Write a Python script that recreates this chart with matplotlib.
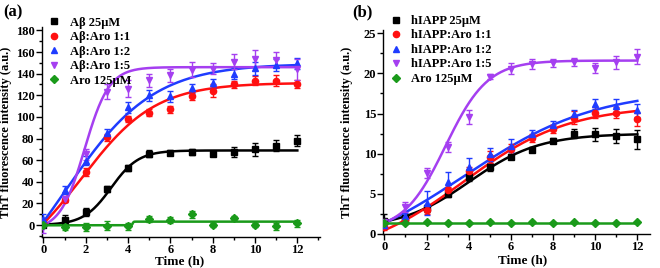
import numpy as np
import matplotlib
matplotlib.use("Agg")
import matplotlib.pyplot as plt
from matplotlib.lines import Line2D
from matplotlib.ticker import MultipleLocator

plt.rcParams['font.family'] = ['Liberation Serif', 'DejaVu Serif']
plt.rcParams['font.weight'] = 'bold'

hours = np.arange(13)

# ---------- panel (a) data ----------
a_labels = ["A\u03b2 25\u03bcM", "A\u03b2:Aro 1:1", "A\u03b2:Aro 1:2", "A\u03b2:Aro 1:5", "Aro 125\u03bcM"]
a_black = [0, 5, 12, 33.5, 53, 66, 67, 67.5, 66, 67.5, 70, 73.5, 78]
a_black_err = [2, 4, 4, 3, 3, 3, 2, 3, 2, 5, 6, 5, 5]
a_red = [3, 23.5, 49, 81, 98, 104, 107, 119.5, 124, 130, 133.5, 133.5, 130.5]
a_red_err = [3, 2, 4, 3, 3, 3, 3, 4, 6, 3, 4, 5, 4]
a_blue = [6, 32.6, 59.7, 85, 109, 120, 119, 126.5, 131, 140, 145, 148, 149.5]
a_blue_err = [4, 4, 4, 4, 5, 5, 5, 4, 4, 5, 6, 6, 5]
a_purple = [-2, 24, 65.5, 123.5, 126, 134, 138.5, 143.5, 144.5, 151, 154, 153, 144]
a_purple_err = [5, 3, 5, 7, 8, 6, 6, 7, 5, 7, 8, 7, 10]
a_green = [0, -1.8, -1.8, -0.6, -1.2, 5.5, 4.9, 10, 0, 6.7, 0, -1.2, 1.5]
a_green_err = [2, 3, 4, 4, 3, 3, 3, 3, 2, 2, 2, 3, 3]
# Boltzmann fit parameters (A1, A2, x0, dx)
a_fits = [(0, 69, 3.2, 0.65), (-45, 131.5, 1.8, 1.75), (-87.8, 149.2, 1.0, 2.1),
          (-5, 146, 1.95, 0.58), (-0.2, 3.2, 4.22, 0.02)]

# ---------- panel (b) data ----------
b_labels = ["hIAPP 25\u03bcM", "hIAPP:Aro 1:1", "hIAPP:Aro 1:2", "hIAPP:Aro 1:5", "Aro 125\u03bcM"]
b_black = [1.6, 2.0, 3.2, 5.0, 7.1, 8.3, 9.6, 10.5, 11.6, 12.5, 12.4, 12.2, 11.8]
b_black_err = [0.9, 0.3, 0.4, 0.4, 0.5, 0.5, 0.3, 0.3, 0.3, 0.6, 0.8, 0.9, 1.2]
b_red = [1.0, 1.8, 3.0, 5.5, 7.8, 9.6, 10.6, 11.9, 13.1, 14.5, 15.1, 15.1, 14.3]
b_red_err = [0.5, 0.3, 0.5, 0.4, 0.6, 0.7, 0.6, 0.5, 0.5, 0.8, 0.7, 0.7, 0.8]
b_blue = [1.1, 2.2, 3.9, 6.5, 8.3, 9.9, 11.0, 12.4, 13.6, 14.9, 16.2, 16.0, 15.4]
b_blue_err = [0.4, 0.4, 1.5, 1.2, 1.2, 0.8, 0.8, 0.5, 0.5, 0.6, 0.6, 0.8, 0.8]
b_purple = [1.5, 3.4, 7.6, 10.8, 14.6, 19.6, 20.6, 21.2, 21.3, 21.4, 20.7, 21.4, 22.1]
b_purple_err = [0.3, 0.6, 0.6, 0.6, 0.9, 0.3, 0.7, 0.6, 0.5, 0.5, 0.6, 0.8, 0.9]
b_green = [1.4, 1.4, 1.45, 1.4, 1.4, 1.5, 1.35, 1.5, 1.35, 1.45, 1.4, 1.4, 1.45]
b_green_err = [0.1] * 13
b_fits = [(0.6, 12.5, 4.05, 1.65), (-3, 16, 3.75, 2.5), (-3.5, 18, 3.8, 3.1),
          (0.3, 21.6, 2.9, 1.0), (1.42, 1.42, 5, 1)]

colors = ['black', '#ff1010', '#1f3cff', '#a53ff0', '#1a9a1a']
markers = ['s', 'o', '^', 'v', 'D']


def boltz(x, A1, A2, x0, dx):
    z = np.clip((x - x0) / dx, -60, 60)
    return A2 + (A1 - A2) / (1 + np.exp(z))


fig = plt.figure(figsize=(6.6, 2.68), dpi=100)
axa = fig.add_axes([0.0632, 0.1157, 0.4216, 0.783])
axb = fig.add_axes([0.5808, 0.1269, 0.404, 0.761])

xs = np.linspace(0, 12, 400)


def msize(m):
    return 4.5 if m != 'D' else 3.6


def draw(ax, series, errs, fits, labels, legy):
    for i, (ys, es, p) in enumerate(zip(series, errs, fits)):
        ax.plot(xs, boltz(xs, *p), color=colors[i], lw=1.8, zorder=2)
        ax.errorbar(hours, ys, yerr=es, fmt=markers[i], color=colors[i],
                    ms=msize(markers[i]), elinewidth=1, capsize=2,
                    capthick=1, zorder=3)
    handles = [Line2D([], [], ls='none', marker=markers[i], color=colors[i],
                      ms=msize(markers[i])) for i in range(5)]
    ax.legend(handles, labels, loc='upper left', bbox_to_anchor=(0.0, legy),
              frameon=False, prop={'family': 'Liberation Serif', 'weight': 'bold', 'size': 9},
              handlelength=1.0, handletextpad=0.75, labelspacing=0.2,
              borderaxespad=0.2, borderpad=0.3)
    for s in ['top', 'right']:
        ax.spines[s].set_visible(False)
    for s in ['left', 'bottom']:
        ax.spines[s].set_linewidth(1.0)
    ax.tick_params(which='major', direction='out', length=4, width=1, labelsize=9, pad=1.2)
    ax.tick_params(which='minor', direction='out', length=2.5, width=1)
    ax.xaxis.set_major_locator(MultipleLocator(2))
    ax.xaxis.set_minor_locator(MultipleLocator(1))
    ax.set_xlabel('Time (h)', fontsize=9.5, fontweight='bold', va='bottom')
    ax.set_ylabel('ThT fluorescence intensity (a.u.)', fontsize=9, fontweight='bold')


draw(axa, [a_black, a_red, a_blue, a_purple, a_green],
     [a_black_err, a_red_err, a_blue_err, a_purple_err, a_green_err], a_fits, a_labels, 1.08)
axa.set_xlim(-0.08, 13.07)
axa.set_ylim(-11, 183)
axa.yaxis.set_major_locator(MultipleLocator(20))
axa.yaxis.set_minor_locator(MultipleLocator(10))
axa.xaxis.set_label_coords(0.497, -0.143)
axa.yaxis.set_label_coords(-0.108, 0.5)

draw(axb, [b_black, b_red, b_blue, b_purple, b_green],
     [b_black_err, b_red_err, b_blue_err, b_purple_err, b_green_err], b_fits, b_labels, 1.105)
axb.set_xlim(-0.05, 12.6)
axb.set_ylim(0, 25.4)
axb.yaxis.set_major_locator(MultipleLocator(5))
axb.yaxis.set_minor_locator(MultipleLocator(2.5))
axb.xaxis.set_label_coords(0.524, -0.16)
axb.yaxis.set_label_coords(-0.112, 0.5)

for ax in (axa, axb):
    for lab in ax.get_xticklabels() + ax.get_yticklabels():
        lab.set_fontweight('bold')

fig.text(0.005, 0.985, '(a)', fontsize=12, fontweight='bold', va='top', ha='left')
fig.text(0.533, 0.985, '(b)', fontsize=12, fontweight='bold', va='top', ha='left')

fig.savefig('out.png', dpi=100)
